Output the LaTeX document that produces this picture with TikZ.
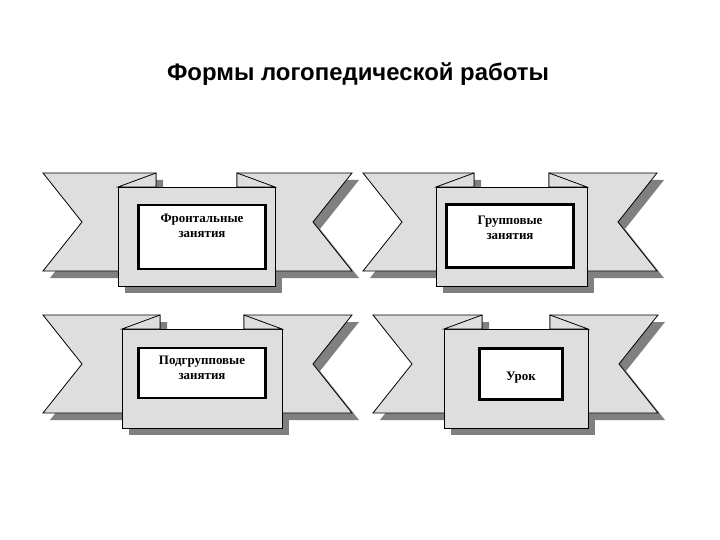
\documentclass[tikz,border=0pt]{standalone}
\usepackage{fontspec}
\setmainfont{Liberation Serif}
\newfontfamily\titlefont{Liberation Sans}
\definecolor{ribbonFill}{RGB}{222,222,222}
\definecolor{ribbonShadow}{RGB}{128,128,128}
\usetikzlibrary{positioning}

\begin{document}
\begin{tikzpicture}[x=1bp, y=-1bp,
  tail/.style={draw=black, line width=0.8bp, fill=ribbonFill},
  shade/.style={fill=ribbonShadow},
  card/.style={draw, line width=2.6bp, fill=white, align=center, inner sep=0pt,
               font=\bfseries\fontsize{13}{15}\selectfont}
]
  \useasboundingbox (0,0) rectangle (720,540);

  \node[font=\titlefont\bfseries\fontsize{24}{27}\selectfont, anchor=base] (title) at (358,81)
    {Формы логопедической работы};

  % left tip / panel left / panel right / right tip / top
  \foreach \L/\PL/\PR/\R/\T in {43/118/275/352/173, 363/436/587/657/173,
                                43/122/282/352/315, 373/444/588/658/315} {
    \begin{scope}[shift={(7,7)}]
      \fill[shade] (\L,\T) -- (\PL+38,\T) -- (\PL+38,\T+98) -- (\L,\T+98) -- (\L+39,\T+49) -- cycle;
      \fill[shade] (\R,\T) -- (\PR-38,\T) -- (\PR-38,\T+98) -- (\R,\T+98) -- (\R-39,\T+49) -- cycle;
      \fill[shade] (\PL,\T+14) rectangle (\PR,\T+113);
    \end{scope}
    \draw[tail] (\L,\T) -- (\PL+38,\T) -- (\PL+38,\T+98) -- (\L,\T+98) -- (\L+39,\T+49) -- cycle;
    \draw[tail] (\R,\T) -- (\PR-38,\T) -- (\PR-38,\T+98) -- (\R,\T+98) -- (\R-39,\T+49) -- cycle;
    \draw[tail] (\PL,\T+14) rectangle (\PR,\T+113);
    \draw[tail] (\PL,\T+14) -- (\PL+38,\T) -- (\PL+38,\T+14) -- cycle;
    \draw[tail] (\PR,\T+14) -- (\PR-38,\T) -- (\PR-38,\T+14) -- cycle;
  }

  \node[card, minimum width=127bp, minimum height=64bp, text depth=23bp] (frontal) at (202,237)
    {Фронтальные\\занятия};
  \node[card, minimum width=127bp, minimum height=63bp, text depth=17bp] (group) at (510,236)
    {Групповые\\занятия};
  \node[card, minimum width=127bp, minimum height=50bp, text depth=11bp] (subgroup) at (202,373)
    {Подгрупповые\\занятия};
  \node[card, minimum width=83bp, minimum height=51bp, text height=16bp] (lesson) at (521,374)
    {Урок};
\end{tikzpicture}
\end{document}
